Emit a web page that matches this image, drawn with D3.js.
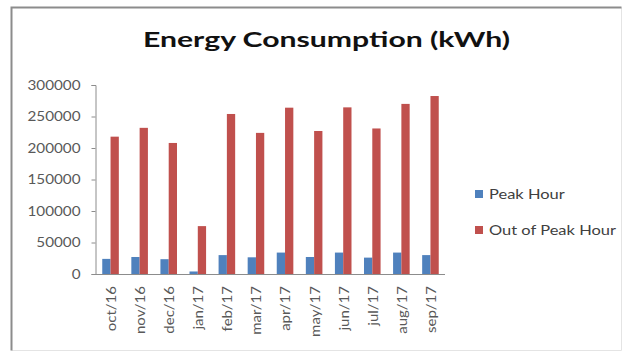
<!DOCTYPE html>
<html>
<head>
<meta charset="utf-8">
<script src="https://cdn.jsdelivr.net/npm/d3@7"></script>
<style>
  html, body { margin: 0; padding: 0; background: #fff; }
  svg { display: block; }
</style>
</head>
<body>
<svg id="chart" width="624" height="356"></svg>
<script>
// Monthly energy use, split by tariff period
const months = ["oct/16", "nov/16", "dec/16", "jan/17", "feb/17", "mar/17",
                "apr/17", "may/17", "jun/17", "jul/17", "aug/17", "sep/17"];
const peakHour = [24000, 27000, 23500, 4000, 30000, 26500,
                  34000, 27000, 34000, 26000, 34000, 30000];
const outOfPeakHour = [218000, 232000, 208000, 76000, 254000, 224000,
                       264000, 227000, 264500, 231000, 270000, 282500];
const yTicks = [0, 50000, 100000, 150000, 200000, 250000, 300000];
const seriesNames = ["Peak Hour", "Out of Peak Hour"];
const seriesColors = ["#4F81BD", "#C0504D"];

const svg = d3.select("#chart");
const font = "Lato, 'Open Sans', sans-serif";

// widen text runs horizontally (wide-set lettering)
function widen(sel, factor) {
  sel.each(function () {
    const w = this.getComputedTextLength();
    d3.select(this)
      .attr("textLength", w * factor)
      .attr("lengthAdjust", "spacingAndGlyphs");
  });
}

// chart frame: darker top/left edge, faint right/bottom edge
svg.append("path")
  .attr("d", "M11.5,350.5H621.5V7.5")
  .attr("fill", "none").attr("stroke", "#e4e4e4").attr("stroke-width", 1);
svg.append("path")
  .attr("d", "M11.5,350.5V7.5H621.5")
  .attr("fill", "none").attr("stroke", "#8c8c8c").attr("stroke-width", 2);

const plot = { left: 96, right: 445, top: 85, bottom: 274 };

const x = d3.scaleBand()
  .domain(months)
  .range([plot.left, plot.right])
  .paddingInner(0.43).paddingOuter(0.215);

const xSeries = d3.scaleBand()
  .domain(seriesNames)
  .range([0, x.bandwidth()]);

const y = d3.scaleLinear()
  .domain([0, 300000])
  .range([plot.bottom, plot.top]);

// title
svg.append("text")
  .attr("x", 326.5).attr("y", 47)
  .attr("text-anchor", "middle")
  .attr("font-family", font)
  .attr("font-weight", "bold")
  .attr("font-size", 21)
  .attr("fill", "#111")
  .attr("textLength", 367)
  .attr("lengthAdjust", "spacingAndGlyphs")
  .text("Energy Consumption (kWh)");

// y axis
const yAxis = d3.axisLeft(y)
  .tickValues(yTicks)
  .tickFormat(d3.format("d"))
  .tickSizeOuter(0)
  .tickSize(4)
  .tickPadding(11);
const gy = svg.append("g")
  .attr("transform", `translate(${plot.left - 0.5},0)`)
  .call(yAxis);
gy.select(".domain").attr("stroke", "#8c8c8c");
gy.selectAll(".tick line").attr("stroke", "#8c8c8c");
gy.selectAll(".tick text")
  .attr("font-family", font)
  .attr("font-size", 12.5)
  .attr("fill", "#595959")
  .call(widen, 1.22);

// bars
const groups = svg.append("g").selectAll("g")
  .data(months)
  .join("g")
  .attr("transform", d => `translate(${x(d)},0)`);

const seriesValues = [peakHour, outOfPeakHour];
groups.selectAll("rect")
  .data((m, i) => seriesNames.map((s, k) => ({ s, k, v: seriesValues[k][i] })))
  .join("rect")
  .attr("x", d => xSeries(d.s))
  .attr("width", xSeries.bandwidth())
  .attr("y", d => y(d.v))
  .attr("height", d => y(0) - y(d.v))
  .attr("fill", d => seriesColors[d.k]);

// x axis
const xAxis = d3.axisBottom(x).tickSize(0).tickSizeOuter(0).tickPadding(6);
const gx = svg.append("g")
  .attr("transform", `translate(0,${plot.bottom})`)
  .call(xAxis);
gx.select(".domain").attr("stroke", "#8c8c8c").attr("d", `M${plot.left - 1},0.5H${plot.right}`);
gx.selectAll(".tick text")
  .attr("font-family", font)
  .attr("font-size", 12.5)
  .attr("fill", "#595959")
  .attr("text-anchor", "end")
  .attr("dy", "0.35em")
  .attr("transform", "translate(1,12) rotate(-90)")
  .attr("x", 0).attr("y", 0)
  .call(widen, 1.2);

// legend
const legend = svg.append("g")
  .selectAll("g")
  .data(seriesNames)
  .join("g")
  .attr("transform", (d, i) => `translate(475,${194 + i * 36})`);
legend.append("rect")
  .attr("x", 0).attr("y", -4)
  .attr("width", 8).attr("height", 8)
  .attr("fill", (d, i) => seriesColors[i]);
legend.append("text")
  .attr("x", 14).attr("y", 0)
  .attr("dy", "0.35em")
  .attr("font-family", font)
  .attr("font-size", 13.5)
  .attr("fill", "#404040")
  .text(d => d)
  .call(widen, 1.22);
</script>
</body>
</html>
